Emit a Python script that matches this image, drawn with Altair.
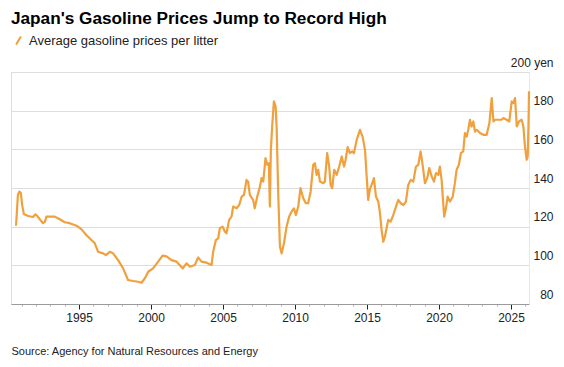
import altair as alt
import pandas as pd

years = [1990.62, 1990.75, 1990.85, 1990.95, 1991.05, 1991.16, 1991.46, 1991.8, 1991.97, 1992.1,
         1992.27, 1992.5, 1992.62, 1992.73, 1993.31, 1993.66, 1994.0, 1994.35, 1994.82, 1995.17,
         1995.5, 1995.86, 1996.09, 1996.32, 1996.67, 1996.86, 1997.13, 1997.36, 1997.71, 1998.06,
         1998.4, 1998.75, 1999.1, 1999.33, 1999.56, 1999.8, 2000.14, 2000.49, 2000.8, 2001.07,
         2001.42, 2001.77, 2002.0, 2002.2, 2002.46, 2002.7, 2003.04, 2003.27, 2003.5, 2003.85,
         2004.2, 2004.31, 2004.5, 2004.66, 2004.78, 2004.97, 2005.13, 2005.24, 2005.42, 2005.59,
         2005.7, 2005.94, 2006.12, 2006.29, 2006.45, 2006.63, 2006.74, 2006.86, 2007.09, 2007.2,
         2007.37, 2007.56, 2007.67, 2007.79, 2007.95, 2008.07, 2008.18, 2008.25, 2008.32, 2008.41,
         2008.53, 2008.65, 2008.72, 2008.83, 2008.95, 2009.07, 2009.23, 2009.41, 2009.59, 2009.76,
         2009.92, 2010.06, 2010.22, 2010.38, 2010.57, 2010.75, 2010.91, 2011.08, 2011.26, 2011.38,
         2011.5, 2011.61, 2011.73, 2011.96, 2012.07, 2012.23, 2012.37, 2012.47, 2012.58, 2012.72,
         2012.89, 2013.07, 2013.24, 2013.4, 2013.51, 2013.65, 2013.81, 2013.97, 2014.09, 2014.28,
         2014.51, 2014.69, 2014.86, 2014.97, 2015.08, 2015.2, 2015.32, 2015.48, 2015.62, 2015.78,
         2015.9, 2016.01, 2016.13, 2016.24, 2016.36, 2016.47, 2016.64, 2016.82, 2017.01, 2017.17,
         2017.34, 2017.52, 2017.7, 2017.86, 2018.03, 2018.21, 2018.4, 2018.56, 2018.72, 2018.86,
         2019.02, 2019.18, 2019.32, 2019.49, 2019.65, 2019.79, 2019.95, 2020.06, 2020.18, 2020.29,
         2020.36, 2020.48, 2020.6, 2020.76, 2020.95, 2021.1, 2021.22, 2021.38, 2021.52, 2021.68,
         2021.8, 2021.92, 2022.03, 2022.15, 2022.26, 2022.38, 2022.5, 2022.62, 2022.85, 2023.08,
         2023.31, 2023.5, 2023.66, 2023.78, 2023.89, 2024.12, 2024.35, 2024.47, 2024.7, 2024.88,
         2025.05, 2025.16, 2025.28, 2025.4, 2025.55, 2025.74, 2025.86, 2025.97, 2026.09, 2026.16,
         2026.22, 2026.25]

prices = [120.5, 136.5, 138.1, 137.5, 131.0, 126.6, 125.5, 125.0, 126.4, 125.5,
          123.8, 121.8, 122.5, 125.2, 125.2, 123.8, 122.3, 121.8, 120.5, 118.6,
          115.7, 113.1, 111.4, 107.0, 106.2, 105.3, 107.0, 106.2, 102.7, 98.4,
          92.4, 91.9, 91.5, 91.0, 93.2, 96.7, 98.4, 101.9, 105.0, 104.6,
          102.7, 101.9, 100.0, 98.4, 101.0, 99.3, 100.2, 104.1, 101.9, 101.4,
          100.2, 107.0, 113.1, 114.0, 119.2, 120.0, 117.4, 116.6, 123.5, 125.2,
          130.4, 129.5, 131.2, 135.5, 136.4, 144.2, 143.3, 136.4, 133.8, 129.5,
          135.5, 140.7, 145.1, 143.3, 155.4, 152.0, 152.8, 130.4, 159.7, 171.8,
          184.8, 182.2, 171.8, 137.3, 109.6, 106.2, 111.4, 120.0, 125.2, 127.8,
          129.5, 126.0, 130.4, 139.9, 134.7, 132.1, 132.1, 138.1, 152.0, 152.8,
          146.8, 149.4, 143.3, 142.5, 143.3, 158.0, 151.1, 141.6, 139.9, 149.4,
          146.8, 151.1, 156.3, 151.1, 154.6, 161.1, 158.0, 158.9, 158.0, 164.9,
          170.1, 166.6, 159.7, 146.5, 133.8, 139.5, 141.6, 145.1, 135.5, 133.0,
          127.0, 118.3, 112.2, 114.8, 119.2, 123.5, 122.6, 126.0, 130.4, 133.8,
          132.1, 131.2, 133.0, 141.6, 144.2, 143.3, 151.1, 152.0, 158.9, 152.0,
          142.5, 145.1, 150.3, 146.0, 143.3, 147.7, 146.8, 151.1, 144.2, 132.1,
          125.2, 129.5, 135.5, 133.0, 135.5, 142.5, 149.4, 152.0, 158.0, 158.9,
          168.4, 166.6, 170.1, 175.3, 171.8, 174.4, 169.2, 170.1, 168.4, 167.5,
          167.5, 173.6, 186.5, 174.4, 175.3, 175.3, 175.3, 176.2, 175.3, 174.4,
          184.8, 183.9, 186.5, 171.8, 174.4, 175.3, 171.8, 161.5, 154.6, 156.3,
          175.0, 190.0]

series_name = "Average gasoline prices per litter"
y_ticks = [80, 100, 120, 140, 160, 180, 200]
x_ticks = list(range(1991, 2027))

df = pd.DataFrame({"year": years, "price": prices, "series": series_name})

FONT = "Liberation Sans"
ORANGE = "#F0A03C"

line = alt.Chart(df).mark_line(strokeWidth=2.2, strokeJoin="round").encode(
    x=alt.X("year:Q",
            scale=alt.Scale(domain=[1990.27, 2026.25], nice=False, zero=False),
            axis=alt.Axis(
                values=x_ticks,
                labelExpr="datum.value % 5 === 0 ? format(datum.value, 'd') : ''",
                grid=False,
                domainColor="#9a9a9a",
                tickColor={"condition": {"test": "datum.value % 5 === 0", "value": "#222222"}, "value": "#b0b0b0"},
                tickSize={"condition": {"test": "datum.value % 5 === 0", "value": 5}, "value": 2},
                labelFontSize=12,
                labelFont=FONT,
                labelColor="#222222",
                labelPadding=3,
                labelFlush=False,
                labelOverlap=False,
                title="Source: Agency for Natural Resources and Energy",
                titleFont=FONT,
                titleFontSize=11,
                titleFontWeight="normal",
                titleColor="#222222",
                titleAnchor="start",
                titleAlign="left",
                titleBaseline="alphabetic",
                titleX=0,
                titleY=50,
            )),
    y=alt.Y("price:Q",
            scale=alt.Scale(domain=[80, 200], nice=False, zero=False),
            axis=alt.Axis(
                orient="right",
                values=y_ticks,
                labelExpr="datum.value === 200 ? '200 yen' : datum.label",
                grid=True,
                gridColor="#dddddd",
                gridWidth=1,
                domain=True,
                domainColor="#e8e8e8",
                ticks=False,
                labelAlign="right",
                labelBaseline="bottom",
                labelPadding=24,
                labelOffset=-3,
                labelFontSize=12,
                labelFont=FONT,
                labelColor="#222222",
                title=None,
            )),
    color=alt.Color("series:N",
                    scale=alt.Scale(range=[ORANGE]),
                    legend=alt.Legend(
                        orient="none",
                        legendX=1,
                        legendY=-38,
                        title=None,
                        symbolType="M-0.6,1L0.6,-1",
                        symbolSize=64,
                        symbolStrokeWidth=2,
                        labelFont=FONT,
                        labelFontSize=13,
                        labelColor="#222222",
                        labelOffset=4,
                        labelLimit=0,
                        padding=0,
                    )),
)

chart = line.properties(
    width=518,
    height=232,
    autosize=alt.AutoSizeParams(type="none"),
    padding={"left": 3, "top": 64, "right": 27, "bottom": 55},
    title=alt.TitleParams(
        "Japan's Gasoline Prices Jump to Record High",
        anchor="start",
        frame="group",
        font=FONT,
        fontSize=17.2,
        fontWeight="bold",
        color="#000000",
        offset=7,
    ),
).configure_view(stroke=None).configure(background="white")

chart.save("out.html", embed_options={"renderer": "svg", "actions": False})
